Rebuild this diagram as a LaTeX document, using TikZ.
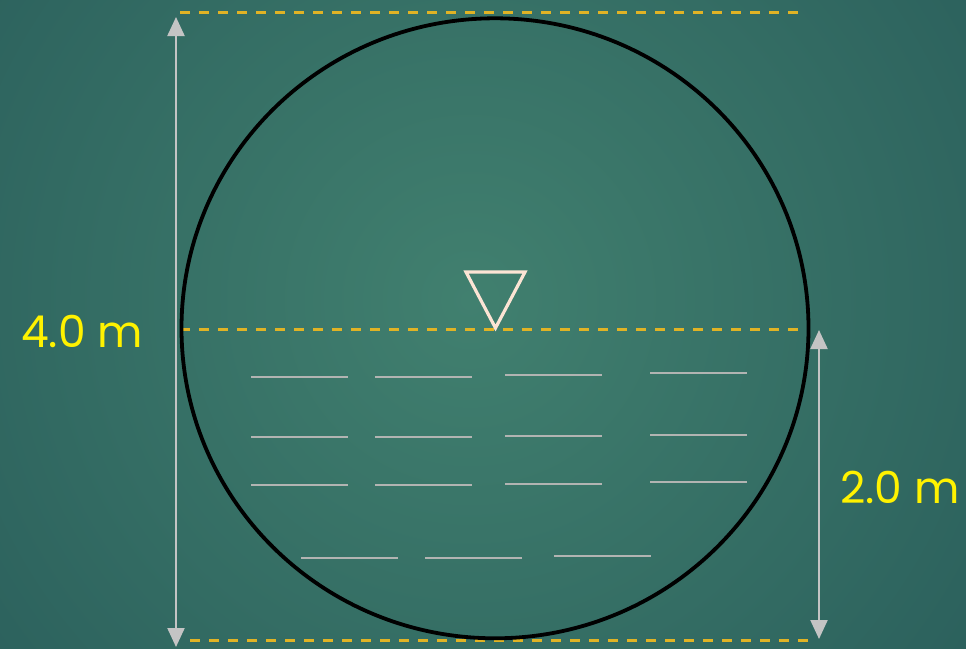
\documentclass[tikz,border=0pt]{standalone}
\usepackage{fontspec}
\setmainfont{Poppins}
\usetikzlibrary{arrows.meta}
\definecolor{fondo}{HTML}{41806F}
\definecolor{fondob}{HTML}{255757}
\definecolor{oro}{HTML}{E0B325}
\definecolor{gris}{HTML}{C4C4C4}
\definecolor{agua}{HTML}{B2B4B2}
\definecolor{crema}{HTML}{FCE4D4}

\begin{document}
\begin{tikzpicture}[x=1pt, y=-1pt,
      nivel/.style={draw=oro, line width=3pt, dash pattern=on 10pt off 9pt},
      cota/.style={draw=gris, line width=2.2pt,
                   {Triangle[length=19pt, width=17pt]}-{Triangle[length=19pt, width=17pt]}},
      ola/.style={draw=agua, line width=2.2pt},
      etiqueta/.style={text=yellow, font=\fontsize{44}{48}\selectfont, inner sep=0pt}]

    % fondo
    \begin{scope}
      \clip (0,0) rectangle (966,648);
      \shade[inner color=fondo, outer color=fondob] (-330,-500) rectangle (1270,1100);
    \end{scope}
    \useasboundingbox (0,0) rectangle (966,648);

    % niveles
    \coordinate (n1a) at (180,12);  \coordinate (n1b) at (802,12);
    \coordinate (n2a) at (180,329); \coordinate (n2b) at (810,329);
    \coordinate (n3a) at (190,640); \coordinate (n3b) at (812,640);
    \draw[nivel] (n1a) -- (n1b);
    \draw[nivel] (n2a) -- (n2b);
    \draw[nivel] (n3a) -- (n3b);

    % tubo
    \draw[line width=3.8pt] (495,328.3) ellipse [x radius=313.5, y radius=310];

    % superficie libre
    \coordinate (t1) at (466,272);
    \coordinate (t2) at (525,272);
    \coordinate (t3) at (495.5,328);
    \draw[crema, line width=3.2pt, line join=miter] (t1) -- (t2) -- (t3) -- cycle;

    % agua
    \foreach \x/\y in {251/377, 375/377, 505/375, 650/373,
                       251/437, 375/437, 505/436, 650/435,
                       251/485, 375/485, 505/484, 650/482,
                       301/558, 425/558, 554/556}
      \draw[ola] (\x,\y) -- ++(97,0);

    % cotas
    \coordinate (ca) at (176,17);  \coordinate (cb) at (176,647);
    \coordinate (cc) at (819,330); \coordinate (cd) at (819,639);
    \draw[cota] (ca) -- (cb);
    \draw[cota] (cc) -- (cd);
    \node[etiqueta] (diam) at (82,331) {4.0 m};
    \node[etiqueta] (tir) at (900,487) {2.0 m};
  \end{tikzpicture}
\end{document}
